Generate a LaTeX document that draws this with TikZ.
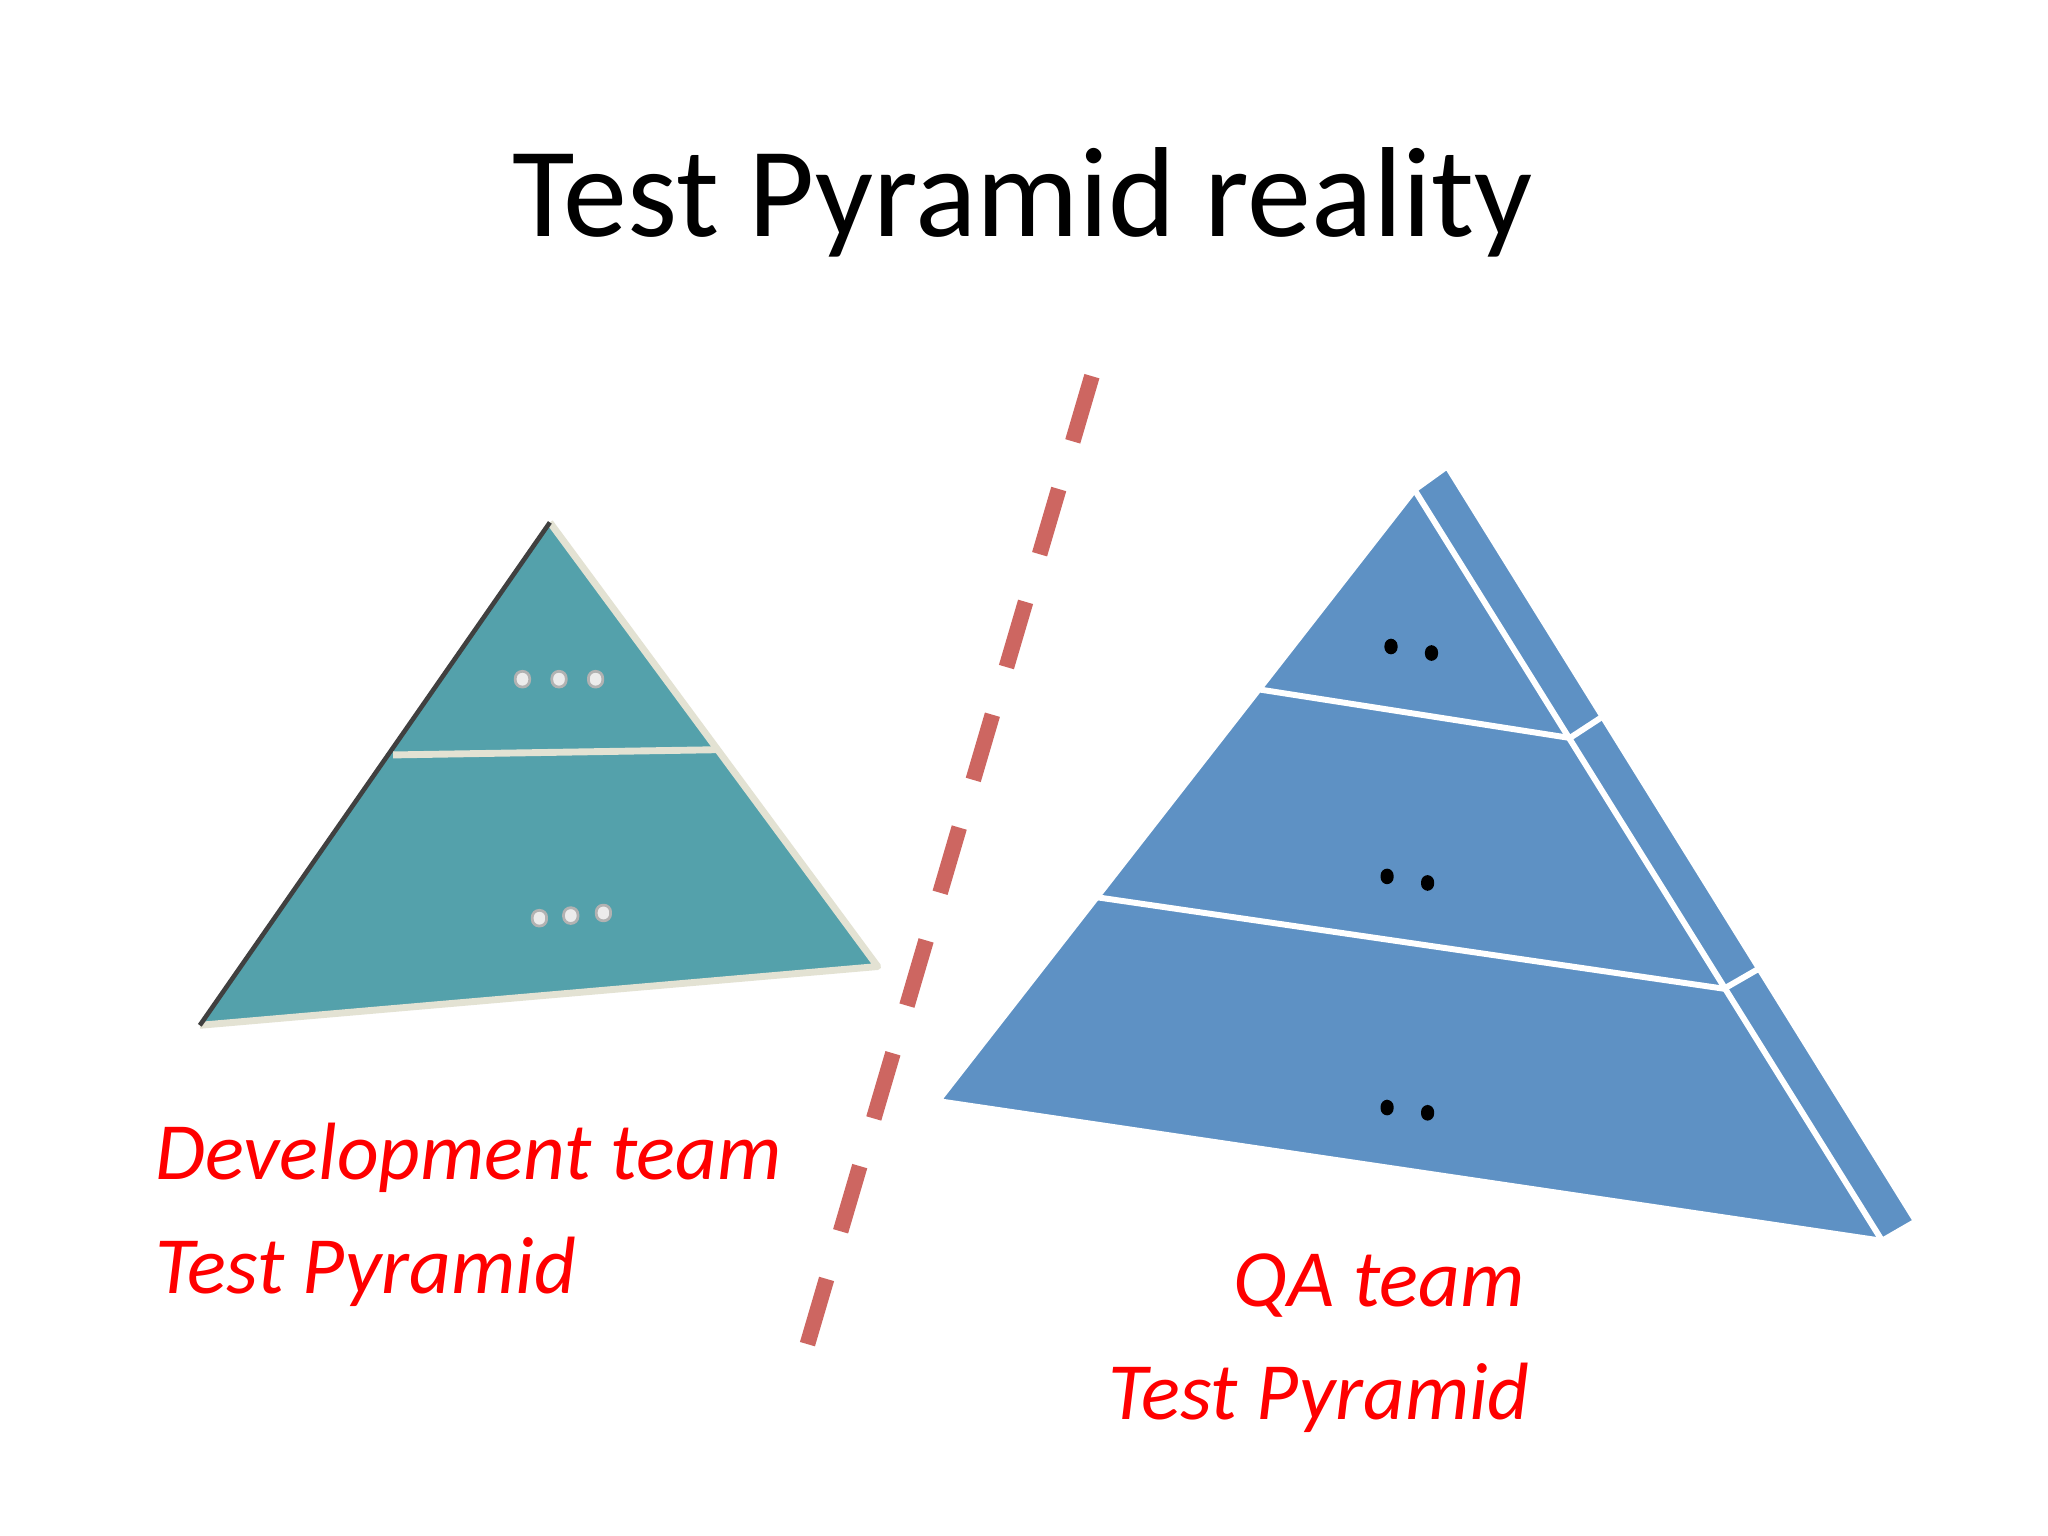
\documentclass[tikz,border=0pt]{standalone}
\usepackage{fontspec}
\setmainfont{Carlito}
\definecolor{teal1}{HTML}{54A1AB}
\definecolor{beige}{HTML}{E3E2D3}
\definecolor{blue1}{HTML}{5E91C4}
\definecolor{dashred}{HTML}{CD6661}
\definecolor{lab}{HTML}{FF0000}
\begin{document}
\begin{tikzpicture}[x=0.01cm,y=-0.01cm,
  redlab/.style={text=lab,font=\fontsize{17.7}{20}\selectfont\itshape,inner sep=0pt},
  bdot/.style={fill=black,rounded corners=1.5pt,minimum width=0.1cm,minimum height=0.12cm,inner sep=0pt},
  gdot/.style={fill=gray!15,draw=gray!60,line width=0.6pt,rounded corners=1.5pt,minimum width=0.11cm,minimum height=0.12cm,inner sep=0pt},
  wline/.style={white,line width=1.3pt,line join=round}]
\useasboundingbox (0,0) rectangle (1568,1176);
\fill[white] (0,0) rectangle (1568,1176);
\node[font=\fontsize{27.9}{32}\selectfont] (title) at (783,155) {Test Pyramid reality};
% left pyramid
\coordinate (LA) at (421,400);
\coordinate (LL) at (153,785);
\coordinate (LR) at (672,740);
\fill[teal1] (LA)--(LL)--(LR)--cycle;
\draw[beige,line width=1.5pt,line join=round] (LA)--(LR)--(LL);
\draw[black!75,line width=1pt] (LA)--(LL);
\draw[beige,line width=1.5pt] (301,578)--(549,574);
\foreach \x/\y [count=\i] in {400/520,428/520,456/520,413/703,437/701,462/699}
  \node[gdot] (g\i) at (\x,\y) {};
% dashed divider
\coordinate (DA) at (836,288);
\coordinate (DB) at (615,1040);
\draw[dashred,line width=3.4pt,dash pattern=on 0.52cm off 0.38cm] (DA)--(DB);
% right pyramid
\coordinate (RA) at (1083,375);
\coordinate (RL) at (718,843);
\coordinate (RR) at (1441,950);
\coordinate (BA) at (1108,357);
\coordinate (BR) at (1467,935);
\fill[blue1] (RA)--(BA)--(BR)--(RR)--(RL)--cycle;
\draw[wline] (RA)--(BA)--(BR)--(RR)--(RL)--cycle;
\draw[wline] (RA)--(RR);
\draw[wline] (965,528)--(1202,565)--(1228,548);
\draw[wline] (840,687)--(1320,757)--(1346,742);
\foreach \x/\y [count=\i] in {1065/495,1096/500,1062/671,1093/676,1062/848,1093/852}
  \node[bdot] (b\i) at (\x,\y) {};
% labels
\node[redlab,anchor=base west] (d1) at (118,903) {Development team};
\node[redlab,anchor=base west] (d2) at (118,990) {Test Pyramid};
\node[redlab,anchor=base east] (q1) at (1168,1000) {QA team};
\node[redlab,anchor=base east] (q2) at (1172,1087) {Test Pyramid};
\end{tikzpicture}
\end{document}
